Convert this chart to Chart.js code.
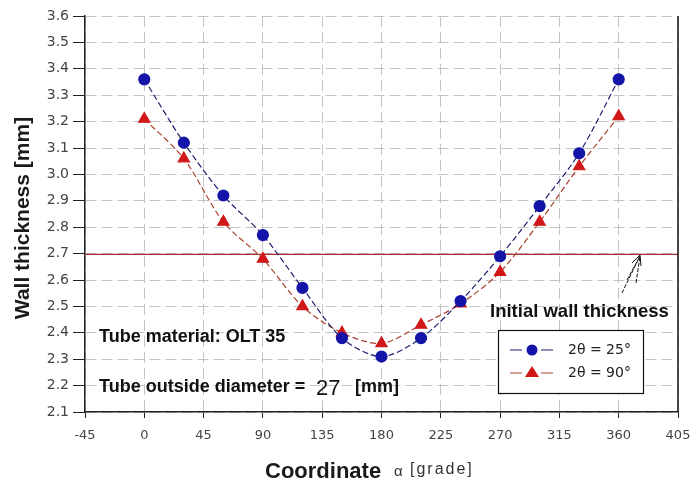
<!DOCTYPE html>
<html>
<head>
<meta charset="utf-8">
<script src="https://cdn.jsdelivr.net/npm/chart.js@4.4.1/dist/chart.umd.min.js"></script>
<style>
  html, body { margin: 0; padding: 0; background: #fff; }
  #wrap { width: 694px; height: 486px; }
</style>
</head>
<body>
<div id="wrap"><canvas id="chart" width="694" height="486"></canvas></div>
<script>
const angles = [0, 30, 60, 90, 120, 150, 180, 210, 240, 270, 300, 330, 360];
const wall25 = [3.36, 3.12, 2.92, 2.77, 2.57, 2.38, 2.31, 2.38, 2.52, 2.69, 2.88, 3.08, 3.36];
const wall90 = [3.21, 3.06, 2.82, 2.68, 2.50, 2.40, 2.36, 2.43, 2.51, 2.63, 2.82, 3.03, 3.22];
const initialX = [-45, 405];
const initialWall = [2.697, 2.697];
const seriesLabels = ["2\u03b8 = 25\u00b0", "2\u03b8 = 90\u00b0"];

const FONT = "'Liberation Sans', Arial, sans-serif";
const TICKFONT = "'DejaVu Sans', sans-serif";
const toPoints = (xs, ys) => xs.map((x, i) => ({ x, y: ys[i] }));

// text, legend box, arrow and right frame line
const decorations = {
  id: "decorations",
  afterDraw(chart) {
    const ctx = chart.ctx;
    const area = chart.chartArea;
    ctx.save();

    // right frame
    ctx.strokeStyle = "#111";
    ctx.lineWidth = 1.5;
    ctx.beginPath();
    ctx.moveTo(area.right, area.top);
    ctx.lineTo(area.right, area.bottom);
    ctx.stroke();

    // axis titles
    ctx.fillStyle = "#1a1a1a";
    ctx.textBaseline = "middle";
    ctx.save();
    ctx.translate(23, 218);
    ctx.rotate(-Math.PI / 2);
    ctx.textAlign = "center";
    ctx.font = "bold 21px " + FONT;
    ctx.fillText("Wall thickness [mm]", 0, 0);
    ctx.restore();

    ctx.textAlign = "left";
    ctx.font = "bold 22px " + FONT;
    ctx.fillText("Coordinate", 265, 472);
    ctx.font = "15px " + FONT;
    ctx.fillStyle = "#333";
    ctx.fillText("\u03b1", 394, 472);
    ctx.letterSpacing = "2px";
    ctx.font = "16px " + FONT;
    ctx.fillText("[grade]", 410, 470);
    ctx.letterSpacing = "0px";

    // annotations
    ctx.fillStyle = "#111";
    ctx.font = "bold 18px " + FONT;
    ctx.fillText("Tube material: OLT 35", 99, 337);
    ctx.fillText("Tube outside diameter =", 99, 387);
    ctx.font = "22px " + FONT;
    ctx.fillText("27", 316, 389);
    ctx.font = "bold 18px " + FONT;
    ctx.fillText("[mm]", 355, 387);

    ctx.font = "bold 18.5px " + FONT;
    ctx.fillText("Initial wall thickness", 490, 312);

    // arrow
    ctx.strokeStyle = "#111";
    ctx.lineWidth = 1;
    ctx.setLineDash([4, 1.5]);
    ctx.beginPath();
    ctx.moveTo(622, 293); ctx.lineTo(640, 256);
    ctx.moveTo(627, 280); ctx.lineTo(640, 256);
    ctx.moveTo(636, 283); ctx.lineTo(640, 256);
    ctx.stroke();
    ctx.setLineDash([]);
    ctx.beginPath();
    ctx.moveTo(640, 255); ctx.lineTo(632, 263);
    ctx.moveTo(640, 255); ctx.lineTo(641, 266);
    ctx.stroke();

    // legend
    const lx = 498, ly = 330, lw = 145, lh = 63;
    ctx.fillStyle = "#fff";
    ctx.fillRect(lx, ly, lw, lh);
    ctx.strokeStyle = "#111";
    ctx.lineWidth = 1.2;
    ctx.strokeRect(lx + 0.5, ly + 0.5, lw, lh);
    chart.data.datasets.slice(0, 2).forEach((ds, i) => {
      const y = ly + 20 + i * 23;
      ctx.strokeStyle = ds.borderColor;
      ctx.lineWidth = 1.2;
      ctx.beginPath();
      ctx.moveTo(lx + 12, y); ctx.lineTo(lx + 24, y);
      ctx.moveTo(lx + 43, y); ctx.lineTo(lx + 55, y);
      ctx.stroke();
      ctx.fillStyle = ds.pointBackgroundColor;
      ctx.beginPath();
      if (ds.pointStyle === "triangle") {
        ctx.moveTo(lx + 34, y - 7); ctx.lineTo(lx + 41, y + 4); ctx.lineTo(lx + 27, y + 4);
        ctx.closePath();
      } else {
        ctx.arc(lx + 34, y, 5.5, 0, Math.PI * 2);
      }
      ctx.fill();
      ctx.fillStyle = "#222";
      ctx.font = "14px " + TICKFONT;
      ctx.fillText(ds.label, lx + 70, y);
    });

    ctx.restore();
  }
};

new Chart(document.getElementById("chart"), {
  type: "line",
  data: {
    datasets: [
      {
        label: seriesLabels[0],
        data: toPoints(angles, wall25),
        borderColor: "#1a1f6e",
        borderWidth: 1.2,
        borderDash: [6, 3],
        pointStyle: "circle",
        pointRadius: 5.5,
        pointBackgroundColor: "#1414a8",
        pointBorderColor: "#1414a8",
        tension: 0.3,
        fill: false
      },
      {
        label: seriesLabels[1],
        data: toPoints(angles, wall90),
        borderColor: "#a8402c",
        borderWidth: 1.2,
        borderDash: [6, 3],
        pointStyle: "triangle",
        pointRadius: 6.5,
        pointBackgroundColor: "#d01818",
        pointBorderColor: "#d01818",
        tension: 0.3,
        fill: false
      },
      {
        label: "Initial wall thickness",
        data: toPoints(initialX, initialWall),
        borderColor: "#a83030",
        borderWidth: 1.3,
        pointRadius: 0,
        fill: false
      }
    ]
  },
  options: {
    responsive: false,
    animation: false,
    layout: { padding: { top: 16, right: 16, left: 0, bottom: 0 } },
    plugins: { legend: { display: false }, tooltip: { enabled: false } },
    scales: {
      x: {
        type: "linear",
        min: -45,
        max: 405,
        afterBuildTicks: s => { s.ticks = []; for (let v = -45; v <= 405; v += 45) s.ticks.push({ value: v }); },
        afterFit: s => { s.height = 74; s.paddingLeft = 0; s.paddingRight = 0; },
        ticks: { color: "#444", font: { family: TICKFONT, size: 13 }, padding: 10, maxRotation: 0 },
        grid: { color: "#c4c4c4", lineWidth: 1, tickLength: 6, tickColor: "#222", drawTicks: true },
        border: { color: "#222", width: 1.5, dash: [11, 5] }
      },
      y: {
        min: 2.1,
        max: 3.6,
        afterBuildTicks: s => { s.ticks = []; for (let i = 0; i <= 15; i++) s.ticks.push({ value: 2.1 + i * 0.1 }); },
        afterFit: s => { s.width = 85; s.paddingTop = 0; s.paddingBottom = 0; },
        ticks: { color: "#444", font: { family: TICKFONT, size: 14 }, padding: 4, callback: v => v.toFixed(1) },
        grid: { color: "#c4c4c4", lineWidth: 1, tickLength: 12, tickColor: "#222", drawTicks: true },
        border: { color: "#222", width: 1.5, dash: [11, 5] }
      }
    }
  },
  plugins: [decorations]
});
</script>
</body>
</html>
